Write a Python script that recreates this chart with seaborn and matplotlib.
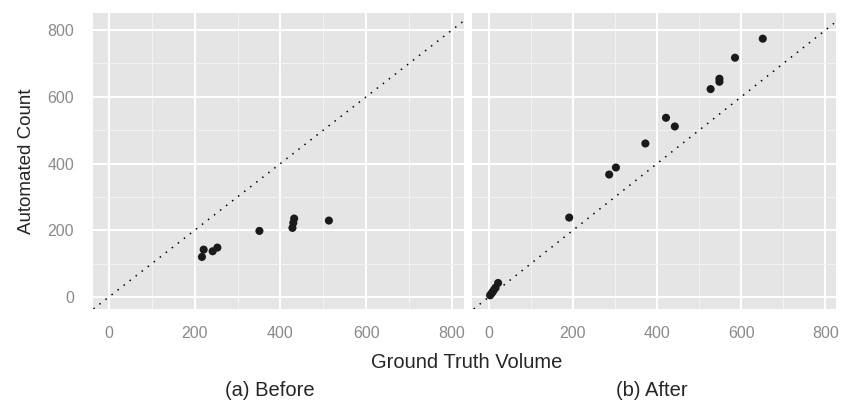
import pandas as pd
import seaborn as sns
import matplotlib.pyplot as plt
from matplotlib.ticker import MultipleLocator

# Data
before_truth = [217, 221, 242, 253, 351, 428, 430, 432, 513]
before_count = [120, 142, 137, 148, 198, 207, 222, 235, 229]

after_truth = [3, 6, 9, 12, 16, 22, 191, 286, 302, 372, 421, 442, 527, 548, 548, 585, 651]
after_count = [5, 10, 15, 21, 28, 42, 238, 367, 388, 460, 537, 511, 623, 645, 654, 717, 774]

ticks = [0, 200, 400, 600, 800]

df_before = pd.DataFrame({"truth": before_truth, "count": before_count})
df_after = pd.DataFrame({"truth": after_truth, "count": after_count})

sns.set_theme(style="darkgrid")
plt.rcParams["font.family"] = ["Liberation Sans", "DejaVu Sans"]

fig = plt.figure(figsize=(8.42, 4.05), dpi=100)
ax1 = fig.add_axes([93 / 842, 1 - 309 / 405, 371 / 842, 296 / 405])
ax2 = fig.add_axes([472 / 842, 1 - 309 / 405, 364 / 842, 296 / 405])

for ax, df in [(ax1, df_before), (ax2, df_after)]:
    ax.set_facecolor("#E5E5E5")
    sns.scatterplot(data=df, x="truth", y="count", ax=ax, color="#1a1a1a",
                    s=34, edgecolor="none", zorder=3)
    ax.axline((0, 0), slope=1, linestyle=(0, (1, 4)), color="black", lw=1.1, zorder=2)
    ax.set_ylim(-36, 851)
    ax.set_xticks(ticks)
    ax.set_yticks(ticks)
    ax.xaxis.set_minor_locator(MultipleLocator(100))
    ax.yaxis.set_minor_locator(MultipleLocator(100))
    ax.grid(True, which="major", color="white", lw=1.4)
    ax.grid(True, which="minor", color="#F2F2F2", lw=0.8)
    ax.set_axisbelow(True)
    for sp in ax.spines.values():
        sp.set_visible(False)
    ax.tick_params(which="major", length=4.5, width=1, color="#7a7a7a",
                   labelcolor="#8a8a8a", labelsize=11.5)
    ax.tick_params(axis="x", pad=7.5)
    ax.tick_params(axis="y", pad=9)
    ax.tick_params(which="minor", length=0)
    ax.set_xlabel("")
    ax.set_ylabel("")

ax1.set_xlim(-37, 828)
ax2.set_xlim(-40, 825)
ax2.tick_params(axis="y", left=False, labelleft=False)

ax1.set_ylabel("Automated Count", fontsize=13.5, labelpad=9)
fig.text(467 / 842, 1 - 362 / 405, "Ground Truth Volume", ha="center", va="center", fontsize=14.5)
fig.text(270 / 842, 1 - 390 / 405, "(a) Before", ha="center", va="center", fontsize=14.5)
fig.text(652 / 842, 1 - 390 / 405, "(b) After", ha="center", va="center", fontsize=14.5)

fig.savefig("out.png", dpi=100)
